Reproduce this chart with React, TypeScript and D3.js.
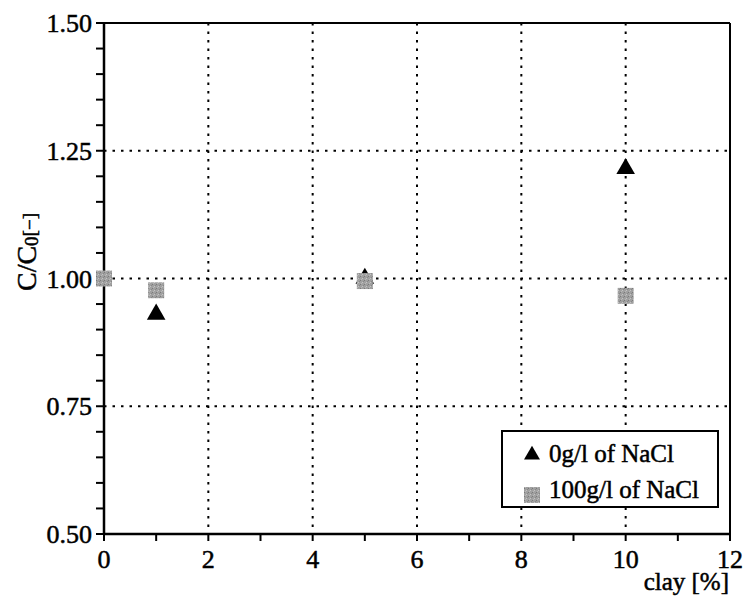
import React from "react";
import * as d3 from "d3";

const triX = [1, 5, 10];
const triY = [0.93, 1.0, 1.215];
const sqX = [0, 1, 5, 10];
const sqY = [1.0, 0.977, 0.995, 0.966];
const xTicks = [0, 2, 4, 6, 8, 10, 12];
const yTicks = [0.5, 0.75, 1.0, 1.25, 1.5];
const xGrid = [2, 4, 6, 8, 10];
const yGrid = [0.75, 1.0, 1.25];
const legendLabels = ["0g/l of NaCl", "100g/l of NaCl"];

const W = 745, H = 596;
const L = 104, R = 730, T = 23, B = 534;
const FONT = "'Liberation Serif', 'DejaVu Serif', serif";
const thick = { stroke: "#000", strokeWidth: 0.5 };

export default function App() {
  const x = d3.scaleLinear().domain([0, 12]).range([L, R]);
  const y = d3.scaleLinear().domain([0.5, 1.5]).range([B, T]);
  const xMinor = d3.range(0, 12.001, 1);
  const yMinor = d3.range(0.5, 1.5001, 0.05);
  const tri = d3.symbol().type(d3.symbolTriangle).size(150)();
  const triSmall = d3.symbol().type(d3.symbolTriangle).size(110)();
  const sq = 16;
  return (
    <svg width={W} height={H} style={{ position: "absolute", left: 0, top: 0, background: "#fff" }}>
      <defs>
        <pattern id="grain" width="4" height="4" patternUnits="userSpaceOnUse">
          <rect width="4" height="4" fill="#a0a0a0" />
          <rect x="0" y="0" width="1" height="1" fill="#7a7a7a" />
          <rect x="2" y="2" width="1" height="1" fill="#c4c4c4" />
          <rect x="3" y="1" width="1" height="1" fill="#888" />
          <rect x="1" y="3" width="1" height="1" fill="#b8b8b8" />
        </pattern>
      </defs>
      {xGrid.map((v) => (
        <line key={"gx" + v} x1={x(v)} x2={x(v)} y1={T} y2={B} stroke="#000" strokeWidth={2} strokeDasharray="2.5,6" />
      ))}
      {yGrid.map((v) => (
        <line key={"gy" + v} x1={L} x2={R} y1={y(v)} y2={y(v)} stroke="#000" strokeWidth={2} strokeDasharray="2.5,6" />
      ))}
      <line x1={L} x2={R} y1={T} y2={T} stroke="#000" strokeWidth={2} />
      <line x1={R} x2={R} y1={T} y2={B} stroke="#000" strokeWidth={2} />
      <line x1={L} x2={L} y1={T - 1} y2={B + 1} stroke="#000" strokeWidth={2.5} />
      <line x1={L} x2={R} y1={B} y2={B} stroke="#000" strokeWidth={2.5} />
      {xMinor.map((v) => (
        <line key={"tx" + v} x1={x(v)} x2={x(v)} y1={B} y2={B + 7} stroke="#000" strokeWidth={2} />
      ))}
      {yMinor.map((v, i) => (
        <line key={"ty" + i} x1={L - 8} x2={L} y1={y(v)} y2={y(v)} stroke="#000" strokeWidth={2} />
      ))}
      {xTicks.map((v) => (
        <text key={"lx" + v} x={x(v)} y={568} textAnchor="middle" fontFamily={FONT} fontSize={26} fill="#000" {...thick}>{v}</text>
      ))}
      {yTicks.map((v) => (
        <text key={"ly" + v} x={92} y={y(v) + 9} textAnchor="end" fontFamily={FONT} fontSize={26} fill="#000" {...thick}>{v.toFixed(2)}</text>
      ))}
      <text x={729} y={590} textAnchor="end" fontFamily={FONT} fontSize={25} fill="#000" {...thick}>clay [%]</text>
      <text transform="translate(36,252) rotate(-90)" textAnchor="middle" fontFamily={FONT} fontSize={28} fill="#000" {...thick}>
        C/C<tspan fontSize={19} dy={2}>0</tspan><tspan fontSize={19} dy={-2}>[−]</tspan>
      </text>
      {triX.map((v, i) => (
        <path key={"t" + i} d={tri} transform={`translate(${x(v)},${y(triY[i])})`} fill="#000" />
      ))}
      {sqX.map((v, i) => (
        <rect key={"s" + i} x={x(v) - sq / 2} y={y(sqY[i]) - sq / 2} width={sq} height={sq} fill="url(#grain)" />
      ))}
      <rect x={502} y={431} width={216} height={76} fill="#fff" stroke="#000" strokeWidth={2} />
      <path d={triSmall} transform="translate(532,455)" fill="#000" />
      <rect x={524} y={487} width={16} height={16} fill="url(#grain)" />
      <text x={549} y={462} fontFamily={FONT} fontSize={25} fill="#000" {...thick}>{legendLabels[0]}</text>
      <text x={549} y={498} fontFamily={FONT} fontSize={25} fill="#000" {...thick}>{legendLabels[1]}</text>
    </svg>
  );
}
